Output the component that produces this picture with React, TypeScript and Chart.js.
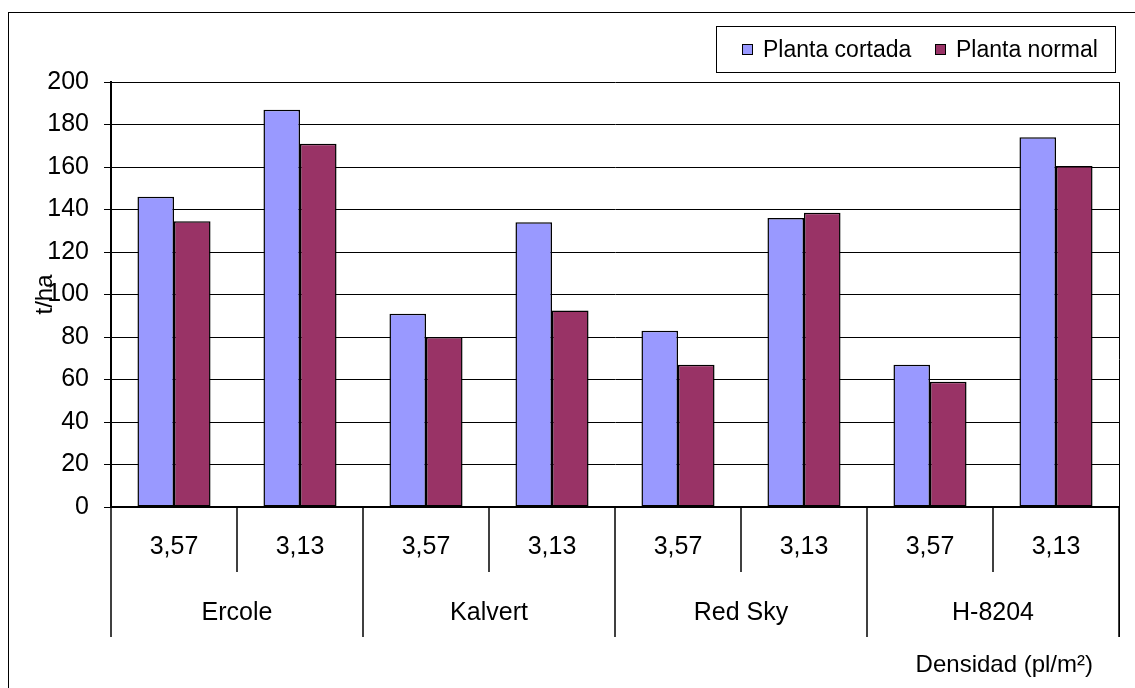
import React, { useEffect, useRef } from "react";
import { Chart, registerables } from "chart.js";

Chart.register(...registerables);

const varieties = ["Ercole", "Kalvert", "Red Sky", "H-8204"];
const densities = ["3,57", "3,13"];
const categories = varieties.flatMap((v) => densities.map((d) => `${v} ${d}`));
const plantaCortada = [146, 187, 91, 134, 83, 136, 67, 174];
const plantaNormal = [134.5, 171, 80, 92.5, 67, 138.5, 59, 160.5];
const seriesNames = ["Planta cortada", "Planta normal"];
const seriesColors = ["#9999FF", "#993366"];
const yTitle = "t/ha";
const xTitle = "Densidad (pl/m²)";

const FONT = "Arial, 'Liberation Sans', sans-serif";

const overlay = {
  id: "overlay",
  afterDraw(chart: any) {
    const ctx = chart.ctx as CanvasRenderingContext2D;
    const xs = chart.scales.x;
    const area = chart.chartArea;
    const step = xs.getPixelForValue(1) - xs.getPixelForValue(0);
    ctx.save();
    // outer frame
    ctx.strokeStyle = "#000";
    ctx.lineWidth = 1;
    ctx.strokeRect(8.5, 12.5, 1300, 1000);
    // right plot border
    ctx.beginPath();
    ctx.moveTo(Math.round(area.right) + 0.5, area.top);
    ctx.lineTo(Math.round(area.right) + 0.5, 637);
    ctx.stroke();
    // separators
    ctx.lineWidth = 1.5;
    for (let i = 0; i <= categories.length; i++) {
      const x = Math.round(xs.getPixelForValue(0) - step / 2 + i * step);
      const end = i % densities.length === 0 ? 637 : 572;
      ctx.beginPath();
      ctx.moveTo(x, area.bottom);
      ctx.lineTo(x, end);
      ctx.stroke();
    }
    // labels
    ctx.fillStyle = "#000";
    ctx.font = `25px ${FONT}`;
    ctx.textAlign = "center";
    ctx.textBaseline = "middle";
    categories.forEach((_, i) => {
      ctx.fillText(densities[i % densities.length], xs.getPixelForValue(i), 547);
    });
    varieties.forEach((v, j) => {
      const a = xs.getPixelForValue(j * densities.length);
      const b = xs.getPixelForValue(j * densities.length + densities.length - 1);
      ctx.fillText(v, (a + b) / 2, 613);
    });
    ctx.font = `24px ${FONT}`;
    ctx.textAlign = "right";
    ctx.fillText(xTitle, 1093, 665);
    // y title
    ctx.save();
    ctx.translate(45, (area.top + area.bottom) / 2);
    ctx.rotate(-Math.PI / 2);
    ctx.textAlign = "center";
    ctx.font = `24px ${FONT}`;
    ctx.fillText(yTitle, 0, 0);
    ctx.restore();
    // legend
    ctx.lineWidth = 1;
    ctx.fillStyle = "#fff";
    ctx.fillRect(716, 26, 400, 47);
    ctx.strokeRect(716.5, 26.5, 399, 46);
    const items = [
      { x: 742, tx: 763 },
      { x: 935, tx: 956 },
    ];
    ctx.font = `23px ${FONT}`;
    ctx.textAlign = "left";
    items.forEach((it, k) => {
      ctx.fillStyle = seriesColors[k];
      ctx.fillRect(it.x, 44, 11, 11);
      ctx.strokeStyle = "#000";
      ctx.strokeRect(it.x + 0.5, 44.5, 10, 10);
      ctx.fillStyle = "#000";
      ctx.fillText(seriesNames[k], it.tx, 51);
    });
    ctx.restore();
  },
};

export default function App() {
  const ref = useRef<HTMLCanvasElement>(null);
  useEffect(() => {
    if (!ref.current) return;
    const chart = new Chart(ref.current, {
      type: "bar",
      data: {
        labels: categories,
        datasets: [
          {
            label: seriesNames[0],
            data: plantaCortada,
            backgroundColor: seriesColors[0],
            borderColor: "#000",
            borderWidth: 1.5,
            borderSkipped: false,
            categoryPercentage: 0.58,
            barPercentage: 1,
          },
          {
            label: seriesNames[1],
            data: plantaNormal,
            backgroundColor: seriesColors[1],
            borderColor: "#000",
            borderWidth: 1.5,
            borderSkipped: false,
            categoryPercentage: 0.58,
            barPercentage: 1,
          },
        ],
      },
      options: {
        animation: false,
        responsive: false,
        devicePixelRatio: 1,
        layout: { padding: { left: 0, top: 82, right: 16, bottom: 0 } },
        plugins: { legend: { display: false }, tooltip: { enabled: false } },
        scales: {
          x: {
            ticks: { display: false },
            grid: { display: false },
            border: { display: true, color: "#000", width: 2 },
            afterFit: (s: any) => {
              s.height = 181;
            },
          },
          y: {
            min: 0,
            max: 200,
            ticks: {
              stepSize: 20,
              color: "#000",
              padding: 15,
              font: { size: 25, family: FONT },
            },
            grid: { color: "#000", lineWidth: 1, tickLength: 7 },
            border: { display: true, color: "#000", width: 2 },
            afterFit: (s: any) => {
              s.width = 111;
            },
          },
        },
      },
      plugins: [overlay],
    });
    return () => chart.destroy();
  }, []);
  return (
    <div style={{ position: "absolute", left: 0, top: 0, width: 1135, height: 688, background: "#fff" }}>
      <canvas ref={ref} width={1135} height={688} style={{ width: 1135, height: 688 }} />
    </div>
  );
}
